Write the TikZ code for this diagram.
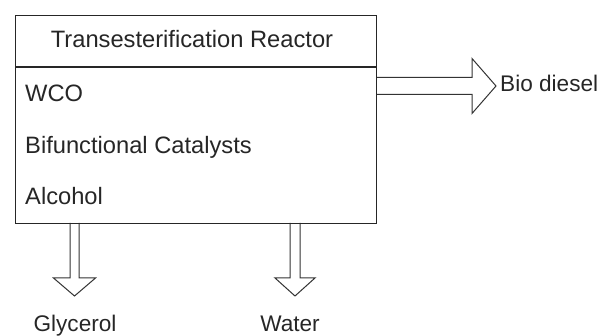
\documentclass[tikz,border=0pt]{standalone}
\usepackage{fontspec}
\setmainfont{Liberation Sans}
\usetikzlibrary{calc}
\begin{document}
\begin{tikzpicture}[x=1pt,y=1pt,
  box/.style={draw=black!85, line width=1.3pt},
  fat/.style={draw=black!80, line width=1pt, line join=miter},
  lbl/.style={anchor=base, font=\fontsize{23.7}{28}\selectfont, text=black!85, inner sep=0pt},
  outlbl/.style={lbl, font=\fontsize{22.6}{28}\selectfont}]
\useasboundingbox (0,0) rectangle (606,336);
% arrows (drawn first, box on top)
\coordinate (bioout) at (376,250);
\coordinate (glyout) at (74.5,113);
\coordinate (watout) at (295,113);
\draw[fat] ($(bioout)+(0,8.5)$) -- ++(96,0) -- ++(0,19) -- ($(bioout)+(120,0)$) -- ++(-24,-27.5) -- ++(0,19) -- ($(bioout)+(0,-8.5)$);
\draw[fat] ($(glyout)+(-4.5,0)$) -- ++(0,-55) -- ++(-16.5,0) -- ($(glyout)+(0,-73)$) -- ++(21,18) -- ++(-16.5,0) -- ($(glyout)+(4.5,0)$);
\draw[fat] ($(watout)+(-5,0)$) -- ++(0,-55) -- ++(-15,0) -- ($(watout)+(0,-73)$) -- ++(20,18) -- ++(-15,0) -- ($(watout)+(5,0)$);
% reactor box
\node[box, minimum width=361pt, minimum height=208pt, inner sep=0pt, anchor=north west] (reactor) at (15,321) {};
\coordinate (divl) at (15,269);
\coordinate (divr) at (376,269);
\draw[box] (divl) -- (divr);
% texts
\node[lbl] (title) at (192,288) {Transesterification Reactor};
\node[lbl, anchor=base west] (wco) at (25,234) {WCO};
\node[lbl, anchor=base west] (cat) at (25,182) {Bifunctional Catalysts};
\node[lbl, anchor=base west] (alc) at (25,131) {Alcohol};
\node[outlbl, anchor=base west] (bio) at (500,244) {Bio diesel};
\node[outlbl] (gly) at (75,4) {Glycerol};
\node[outlbl] (wat) at (290,4) {Water};
\end{tikzpicture}
\end{document}
